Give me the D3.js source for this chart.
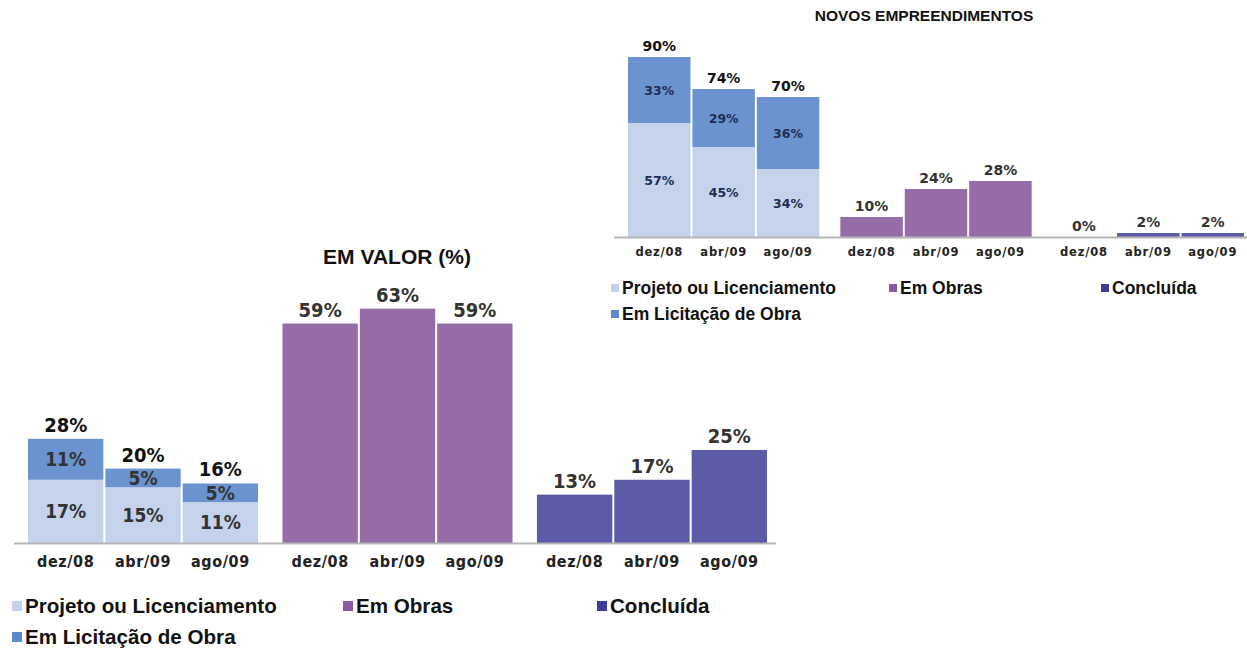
<!DOCTYPE html>
<html>
  <head>
    <meta charset="utf-8">
    <style>
      body { margin: 0; background: #fff; }
      svg { display: block; }
      .legend { font-family: "Liberation Sans", Arial, sans-serif; font-weight: bold; fill: #111; }
    </style>
    <script src="https://cdn.jsdelivr.net/npm/d3@7"></script>
  </head>
  <body>
    <div id="chart"></div>
    <script>
      // data
      var categories = ["dez/08", "abr/09", "ago/09"];
      var groups = ["Projeto ou Licenciamento", "Em Obras", "Concluída"];

      // EM VALOR (%)
      var valorProjeto = [17, 15, 11];
      var valorLicitacao = [11, 5, 5];
      var valorObras = [59, 63, 59];
      var valorConcluida = [13, 17, 25];

      // NOVOS EMPREENDIMENTOS
      var novosProjeto = [57, 45, 34];
      var novosLicitacao = [33, 29, 36];
      var novosObras = [10, 24, 28];
      var novosConcluida = [0, 2, 2];

      var legendNames = ["Projeto ou Licenciamento", "Em Obras", "Concluída", "Em Licitação de Obra"];

      var colors = {
        projeto: "#c4d2ec",
        licitacao: "#6b93cf",
        obras: "#956ba8",
        concluida: "#5c5ba7"
      };
      var legendColors = ["#c4d2ec", "#8a5aa0", "#3d3c98", "#5d88cc"];

      var svg = d3.select("#chart").append("svg")
        .attr("width", 1247)
        .attr("height", 653);

      function panel(opt) {
        var g = svg.append("g");

        var gx = d3.scaleBand().domain(groups).range(opt.xRange).paddingInner(opt.groupPad);
        var cx = d3.scaleBand().domain(categories).range([0, gx.bandwidth()]).paddingInner(opt.barPad);
        var y = d3.scaleLinear().domain([0, 100]).range([opt.base, opt.base - opt.full]);

        // one entry per group, with its stacked segments
        var stacks = [
          { group: groups[0], segs: [{ key: "projeto", vals: opt.projeto }, { key: "licitacao", vals: opt.licitacao }] },
          { group: groups[1], segs: [{ key: "obras", vals: opt.obras }] },
          { group: groups[2], segs: [{ key: "concluida", vals: opt.concluida }] }
        ];

        stacks.forEach(function(s) {
          var gg = g.append("g").attr("transform", "translate(" + gx(s.group) + ",0)");
          categories.forEach(function(c, i) {
            var acc = 0;
            s.segs.forEach(function(seg) {
              var v = seg.vals[i];
              gg.append("rect")
                .attr("x", cx(c))
                .attr("y", y(acc + v))
                .attr("width", cx.bandwidth())
                .attr("height", y(acc) - y(acc + v))
                .attr("fill", colors[seg.key]);
              if (s.segs.length > 1) {
                gg.append("text")
                  .attr("x", cx(c) + cx.bandwidth() / 2)
                  .attr("y", y(acc + v / 2))
                  .attr("dy", "0.36em")
                  .attr("text-anchor", "middle")
                  .style("font-family", opt.valueFont)
                  .style("font-weight", "bold")
                  .style("font-size", opt.innerSize + "px")
                  .attr("fill", opt.innerColor)
                  .text(v + "%");
              }
              acc += v;
            });
            gg.append("text")
              .attr("x", cx(c) + cx.bandwidth() / 2)
              .attr("y", y(acc) - opt.labelGap)
              .attr("text-anchor", "middle")
              .style("font-family", opt.valueFont)
              .style("font-weight", "bold")
              .style("font-size", opt.valueSize + "px")
              .attr("fill", s.segs.length > 1 ? "#111" : "#333")
              .text(acc + "%");
          });

          var ax = gg.append("g")
            .attr("transform", "translate(0," + (opt.base + opt.tickOffset) + ")")
            .call(d3.axisBottom(cx).tickSize(0).tickPadding(0));
          ax.select(".domain").remove();
          ax.selectAll("text")
            .style("font-family", opt.tickFont)
            .style("font-weight", "bold")
            .style("font-size", opt.tickSize + "px")
            .style("letter-spacing", opt.tickSpacing + "px")
            .attr("fill", "#222");
        });

        // baseline
        g.append("line")
          .attr("x1", opt.axisX[0]).attr("x2", opt.axisX[1])
          .attr("y1", opt.base + 0.5).attr("y2", opt.base + 0.5)
          .attr("stroke", "#b5b5b5").attr("stroke-width", 2);

        g.append("text")
          .attr("x", opt.titleX).attr("y", opt.titleY)
          .attr("text-anchor", "middle")
          .style("font-family", "Liberation Sans, Arial, sans-serif")
          .style("font-weight", "bold")
          .style("font-size", opt.titleSize + "px")
          .attr("fill", "#111")
          .text(opt.title);

        // legend
        var lg = g.append("g").attr("class", "legend");
        legendNames.forEach(function(name, i) {
          var px = opt.legendX[i < 3 ? i : 0];
          var py = i < 3 ? opt.legendY[0] : opt.legendY[1];
          lg.append("rect")
            .attr("x", px).attr("y", py - opt.sq / 2)
            .attr("width", opt.sq).attr("height", opt.sq)
            .attr("fill", legendColors[i]);
          lg.append("text")
            .attr("x", px + opt.sq + 3).attr("y", py)
            .attr("dy", "0.36em")
            .style("font-size", opt.legendSize + "px")
            .text(name);
        });
      }

      panel({
        title: "EM VALOR (%)", titleX: 397, titleY: 264, titleSize: 21,
        xRange: [28, 767], groupPad: 0.096, barPad: 0.026,
        base: 543, full: 372, axisX: [14, 776],
        projeto: valorProjeto, licitacao: valorLicitacao, obras: valorObras, concluida: valorConcluida,
        valueFont: "DejaVu Sans Condensed, DejaVu Sans, sans-serif", valueSize: 20, innerSize: 19, innerColor: "#333", labelGap: 7,
        tickFont: "DejaVu Sans Condensed, DejaVu Sans, sans-serif", tickSize: 16, tickSpacing: 0.6, tickOffset: 13,
        legendX: [12, 343, 597], legendY: [606, 637], sq: 10, legendSize: 20.6
      });

      panel({
        title: "NOVOS EMPREENDIMENTOS", titleX: 924, titleY: 21, titleSize: 15.5,
        xRange: [628, 1244], groupPad: 0.099, barPad: 0.03,
        base: 237, full: 200, axisX: [614, 1247],
        projeto: novosProjeto, licitacao: novosLicitacao, obras: novosObras, concluida: novosConcluida,
        valueFont: "DejaVu Sans, Verdana, sans-serif", valueSize: 14, innerSize: 12.5, innerColor: "#1f2d55", labelGap: 6,
        tickFont: "DejaVu Sans, Verdana, sans-serif", tickSize: 11.5, tickSpacing: 0.8, tickOffset: 11,
        legendX: [611, 889, 1101], legendY: [288, 314], sq: 8, legendSize: 17.5
      });
    </script>
  </body>
</html>
